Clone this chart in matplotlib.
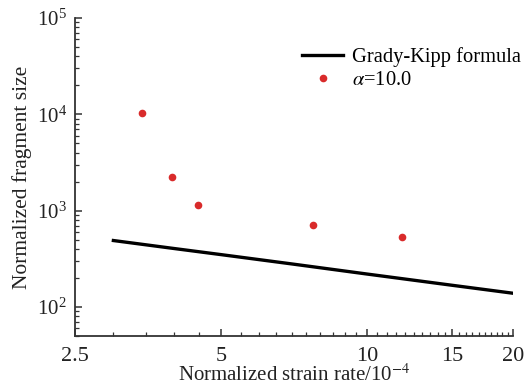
import matplotlib
matplotlib.use('Agg')
import matplotlib.pyplot as plt
import numpy as np
from matplotlib.ticker import FixedLocator, NullFormatter, LogLocator

# data
rate_sim = [3.44, 3.96, 4.48, 7.73, 11.83]
size_sim = [10240, 2238, 1132, 713, 531]

rate_gk = [3.0, 4.0, 5.0, 7.0, 10.0, 15.0, 20.0]
size_gk = [490, 405, 350, 280, 220, 168, 139]

xticks = [2.5, 5, 10, 15, 20]
xtick_labels = ['2.5', '5', '10', '15', '20']

plt.rcParams['font.family'] = ['Liberation Serif', 'DejaVu Serif']
plt.rcParams['mathtext.fontset'] = 'stix'

fig = plt.figure(figsize=(5.28, 3.89), dpi=100)
ax = fig.add_axes([0.142, 0.1362, 0.8296, 0.8175])

ax.plot(rate_gk, size_gk, color='black', lw=2.4, label='Grady-Kipp formula')
ax.plot(rate_sim, size_sim, 'o', color='#d92b2b', ms=5.5, mec='none', label=r'$\alpha$=10.0')

ax.set_xscale('log')
ax.set_yscale('log')
ax.set_xlim(2.5, 20)
ax.set_ylim(50, 1e5)

ax.xaxis.set_major_locator(FixedLocator(xticks))
ax.set_xticklabels(xtick_labels)
ax.xaxis.set_minor_locator(FixedLocator(np.arange(3.0, 20.0, 0.5)))
ax.xaxis.set_minor_formatter(NullFormatter())
ax.yaxis.set_major_locator(LogLocator(base=10, numticks=10))
ax.yaxis.set_minor_locator(LogLocator(base=10, subs=np.arange(2, 10), numticks=20))
ax.yaxis.set_minor_formatter(NullFormatter())

for s in ['top', 'right']:
    ax.spines[s].set_visible(False)
for s in ['left', 'bottom']:
    ax.spines[s].set_linewidth(1.3)
    ax.spines[s].set_color('#333333')

ax.tick_params(which='major', direction='in', length=5, width=1.1, color='#333333', colors='#222222')
ax.tick_params(which='minor', direction='in', length=3, width=0.9, color='#333333')
ax.tick_params(axis='x', which='major', pad=8, labelsize=16)
ax.tick_params(axis='y', which='major', pad=6, labelsize=15)

ax.set_xlabel(r'Normalized strain rate/10$^{-4}$', fontsize=15, color='#222222', labelpad=-1)
ax.set_ylabel('Normalized fragment size', fontsize=15.5, color='#222222', labelpad=3)

ax.legend(loc='upper left', bbox_to_anchor=(0.5, 0.935), frameon=False, fontsize=14.8,
          handlelength=2.0, handletextpad=0.4, labelspacing=0.2, borderaxespad=0)

fig.savefig('out.png', dpi=100)
